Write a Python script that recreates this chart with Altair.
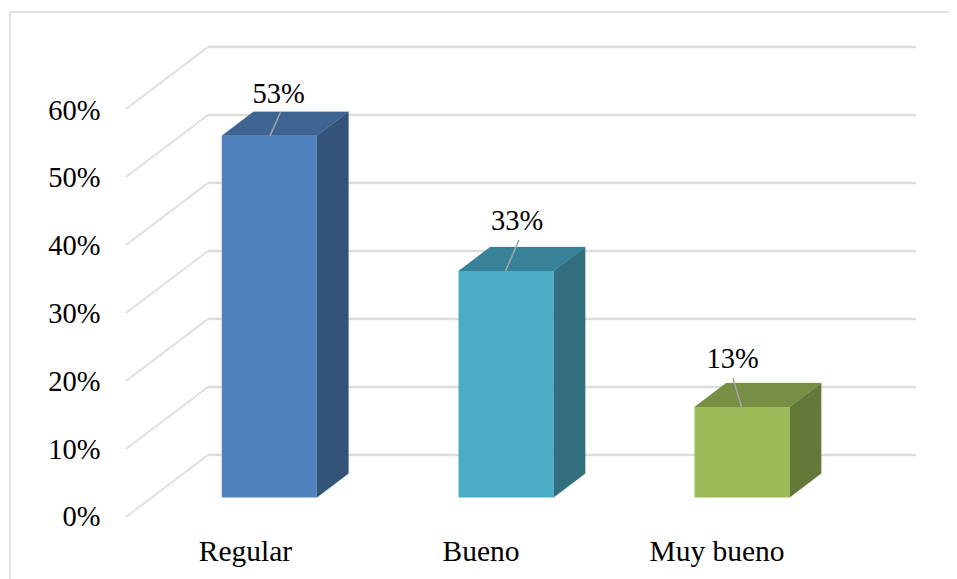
import altair as alt
import pandas as pd

# Chart values
categories = ["Regular", "Bueno", "Muy bueno"]
values = [53.2, 33.3, 13.3]
value_labels = ["53%", "33%", "13%"]
tick_values = [0, 10, 20, 30, 40, 50, 60]
tick_labels = ["0%", "10%", "20%", "30%", "40%", "50%", "60%"]

# Colours of the faces
front_colors = ["#4f81bd", "#4bacc6", "#9bbb59"]
top_colors = ["#3e6591", "#388299", "#778f45"]
side_colors = ["#335478", "#326e7e", "#647839"]

# Layout in picture pixels; the x scale is in pixels, the y scale in percent
PX = 6.8                # pixels per percentage point
BASE = 497.5            # pixel row of 0 on the bars' front plane
bar_left = [221.8, 458.5, 694.5]
bar_width = 95
depth_x, depth_y = 31.7, 24 / PX
wall_x0, wall_x1, wall_y = 208, 916, 42.5 / PX
front_x, front_y = 126, -19.5 / PX
tick_label_x, tick_label_dy, tick_label_step = 100.5, -28.8 / PX, 67.8 / 68
cat_x = [245.5, 481, 717]
cat_y = -63.5 / PX
label_x = [278.5, 517, 732.7]
label_dy = [33 / PX, 41.5 / PX, 39.5 / PX]
leader_foot_x = [270, 505.5, 741.5]
leader_head_x = [280.5, 519, 733]
leader_rise = [23.5 / PX, 31 / PX, 29 / PX]
FONT = "Liberation Serif"
FS_TICK = 28.5
FS_VAL = 28.5
FS_CAT = 29.5


def py(pixel):
    return (BASE - pixel) / PX


x_scale = alt.Scale(domain=[8, 949], range=[0, 941], nice=False, zero=False)
y_scale = alt.Scale(domain=[py(579), py(8)], range=[571, 0], nice=False, zero=False)
X = lambda f: alt.X(f, type="quantitative", scale=x_scale, axis=None, stack=None)
Y = lambda f: alt.Y(f, type="quantitative", scale=y_scale, axis=None, stack=None)

ticks = pd.DataFrame({"v": tick_values, "label": tick_labels})
ticks["back"] = ticks.v + wall_y
ticks["front"] = ticks.v + front_y
ticks["lab"] = ticks.v * tick_label_step + tick_label_dy
ticks["x0"], ticks["x1"], ticks["xf"], ticks["xl"] = wall_x0, wall_x1, front_x, tick_label_x

wall = alt.Chart(ticks).mark_rule(color="#dcdcdc", strokeWidth=2.4).encode(
    x=X("x0"), x2="x1", y=Y("back"))
diag = alt.Chart(ticks).mark_rule(color="#dcdcdc", strokeWidth=1.6).encode(
    x=X("xf"), x2="x0", y=Y("front"), y2="back")
tick_text = alt.Chart(ticks).mark_text(
    font=FONT, fontSize=FS_TICK, align="right", baseline="alphabetic", color="#000000"
).encode(x=X("xl"), y=Y("lab"), text="label")

# Bar faces: one closed outline per face, drawn as a filled line
front_rows, face_layers = [], []
for c, v, l, fc, tc, sc in zip(categories, values, bar_left, front_colors, top_colors, side_colors):
    r = l + bar_width
    front_rows.append({"c": c, "l": l, "r": r, "v": v, "b": 0, "col": fc})
    side_outline = pd.DataFrame({
        "px": [r, r + depth_x, r + depth_x, r, r],
        "pv": [0, depth_y, v + depth_y, v, 0],
        "i": range(5),
    })
    top_outline = pd.DataFrame({
        "px": [l, r, r + depth_x, l + depth_x, l],
        "pv": [v, v, v + depth_y, v + depth_y, v],
        "i": range(5),
    })
    for outline, col in ((side_outline, sc), (top_outline, tc)):
        face_layers.append(
            alt.Chart(outline).mark_line(fill=col, stroke=col, strokeWidth=0.25, interpolate="linear").encode(
                x=X("px"), y=Y("pv"), order="i:Q")
        )

front = alt.Chart(pd.DataFrame(front_rows)).mark_rect().encode(
    x=X("l"), x2="r", y=Y("b"), y2="v", color=alt.Color("col:N", scale=None))

# Data labels with leader lines
labs = pd.DataFrame({
    "v": values, "label": value_labels, "x": label_x, "dy": label_dy,
    "fx": leader_foot_x, "hx": leader_head_x, "rise": leader_rise,
})
labs["y"] = labs.v + labs.dy
labs["head"] = labs.v + labs.rise
leaders = alt.Chart(labs).mark_rule(color="#a6a6a6", strokeWidth=1.5).encode(
    x=X("fx"), x2="hx", y=Y("v"), y2="head")
val_text = alt.Chart(labs).mark_text(
    font=FONT, fontSize=FS_VAL, align="center", baseline="alphabetic", color="#000000"
).encode(x=X("x"), y=Y("y"), text="label")

cats = pd.DataFrame({"c": categories, "x": cat_x, "y": cat_y})
cat_text = alt.Chart(cats).mark_text(
    font=FONT, fontSize=FS_CAT, align="center", baseline="alphabetic", color="#000000"
).encode(x=X("x"), y=Y("y"), text="c")

# Chart-area frame: only its left and top edges fall inside the picture
frame_x, frame_top = 10, 12
frame = pd.DataFrame({"x0": [frame_x, frame_x], "x1": [frame_x, 949],
                      "y0": [py(frame_top), py(frame_top)], "y1": [py(579), py(frame_top)]})
border = alt.Chart(frame).mark_rule(color="#d9d9d9", strokeWidth=1.5).encode(
    x=X("x0"), x2="x1", y=Y("y0"), y2="y1")

chart = alt.layer(
    border, wall, diag, *face_layers, front, leaders, tick_text, val_text, cat_text
).properties(
    width=941, height=571, padding=0,
    autosize=alt.AutoSizeParams(type="none"),
    background="#ffffff",
).configure_view(stroke=None)

chart.save("out.html", embed_options={"renderer": "svg", "actions": False})
